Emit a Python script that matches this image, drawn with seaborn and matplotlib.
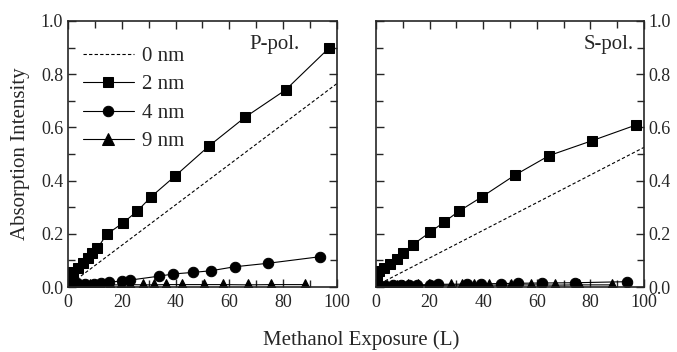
import numpy as np
import pandas as pd
import matplotlib
matplotlib.use("Agg")
import matplotlib.pyplot as plt
import seaborn as sns
from matplotlib.ticker import MultipleLocator, FormatStrFormatter

# exposure (L) and absorption intensity
p0_x = [1.5, 100]
p0_y = [0.016, 0.765]
p2_x = [0, 0.2, 0.5, 1.0, 2.0, 3.8, 5.5, 7.3, 9.0, 10.9, 14.4, 20.6, 25.8, 31.0, 39.8, 52.4, 65.8, 80.9, 97.1]
p2_y = [0.0, 0.015, 0.03, 0.045, 0.057, 0.072, 0.089, 0.108, 0.127, 0.145, 0.198, 0.242, 0.286, 0.340, 0.417, 0.530, 0.638, 0.741, 0.899]
p4_x = [0, 0.5, 1.5, 3.3, 6.4, 9.5, 12.2, 15.4, 20.0, 23.1, 34.0, 39.2, 46.6, 53.1, 61.9, 74.2, 93.8]
p4_y = [0.0, 0.01, 0.02, 0.015, 0.012, 0.012, 0.014, 0.018, 0.023, 0.026, 0.041, 0.049, 0.055, 0.061, 0.076, 0.089, 0.114]
p9_x = [0, 0.5, 2, 4, 6, 8, 10, 12, 15.5, 19.7, 23.1, 28.0, 32.0, 36.5, 42.3, 50.4, 57.8, 66.9, 75.6, 88.2]
p9_y = [0.0, 0.004, 0.005, 0.006, 0.006, 0.007, 0.007, 0.007, 0.008, 0.008, 0.009, 0.008, 0.008, 0.009, 0.009, 0.009, 0.009, 0.008, 0.009, 0.009]

s0_x = [1.5, 100]
s0_y = [0.013, 0.525]
s2_x = [0, 0.2, 0.5, 1.3, 3.0, 5.2, 7.7, 10.2, 13.7, 20.2, 25.4, 30.8, 39.7, 51.9, 64.6, 80.6, 97.0]
s2_y = [0.0, 0.025, 0.044, 0.06, 0.073, 0.088, 0.106, 0.128, 0.159, 0.206, 0.244, 0.284, 0.34, 0.421, 0.494, 0.55, 0.609]
s4_x = [0, 0.5, 1.5, 3.3, 6.4, 9.5, 12.2, 15.4, 20.0, 23.1, 34.0, 39.2, 46.6, 53.1, 61.9, 74.2, 93.8]
s4_y = [0.0, 0.003, 0.004, 0.005, 0.006, 0.006, 0.007, 0.008, 0.009, 0.01, 0.011, 0.012, 0.013, 0.014, 0.015, 0.016, 0.02]
s9_x = [0, 0.5, 2, 4, 6, 8, 10, 12, 15.5, 19.7, 23.1, 28.0, 32.0, 36.5, 42.3, 50.4, 57.8, 66.9, 75.6, 88.2]
s9_y = [0.0, 0.003, 0.004, 0.004, 0.005, 0.005, 0.005, 0.006, 0.006, 0.006, 0.006, 0.007, 0.007, 0.007, 0.007, 0.007, 0.008, 0.007, 0.008, 0.008]

sns.set_style("ticks")
plt.rcParams['font.family'] = ['Liberation Serif', 'DejaVu Serif']

fig = plt.figure(figsize=(6.77, 3.52), dpi=100)
ax1 = fig.add_axes([68/677, 1-287/352, 269/677, 266/352])
ax2 = fig.add_axes([376/677, 1-287/352, 268/677, 266/352])

def draw_panel(ax, d0, d2, d4, d9):
    kw = dict(color='black', lw=0.8, estimator=None, sort=False, ax=ax)
    sns.lineplot(x=d0[0], y=d0[1], linestyle=(0, (3, 2)), label='0 nm', **kw)
    sns.lineplot(x=d2[0], y=d2[1], marker='s', markersize=7.5, mec='black', label='2 nm', **kw)
    sns.lineplot(x=d4[0], y=d4[1], marker='o', markersize=7.5, mec='black', label='4 nm', **kw)
    sns.lineplot(x=d9[0], y=d9[1], marker='^', markersize=9, mec='black', label='9 nm', **kw)
    ax.set_xlim(0, 100)
    ax.set_ylim(0, 1.0)
    ax.xaxis.set_major_locator(MultipleLocator(20))
    ax.xaxis.set_minor_locator(MultipleLocator(10))
    ax.yaxis.set_major_locator(MultipleLocator(0.2))
    ax.yaxis.set_minor_locator(MultipleLocator(0.1))
    ax.yaxis.set_major_formatter(FormatStrFormatter('%.1f'))
    ax.tick_params(which='both', direction='in', top=True, right=True, labelsize=13, width=1.0)
    ax.tick_params(which='major', length=6)
    ax.tick_params(which='minor', length=5)
    ax.tick_params(axis='x', which='major', pad=5)
    for sp in ax.spines.values():
        sp.set_linewidth(1.2)
    ax.set_xlabel('')
    ax.set_ylabel('')

draw_panel(ax1, (p0_x, p0_y), (p2_x, p2_y), (p4_x, p4_y), (p9_x, p9_y))
draw_panel(ax2, (s0_x, s0_y), (s2_x, s2_y), (s4_x, s4_y), (s9_x, s9_y))

ax1.legend(loc='upper left', bbox_to_anchor=(0.055, 0.905), frameon=False, fontsize=15,
           handlelength=2.45, handletextpad=0.37, labelspacing=0.43,
           borderaxespad=0, borderpad=0)
ax2.get_legend().remove()
ax2.tick_params(which='both', labelleft=False, labelright=True)

ax1.text(0.862, 0.91, 'P-pol.', transform=ax1.transAxes, ha='right', va='center', fontsize=15)
ax2.text(0.96, 0.91, 'S-pol.', transform=ax2.transAxes, ha='right', va='center', fontsize=15)

ax1.set_ylabel('Absorption Intensity', fontsize=15, labelpad=8)
fig.text(361/677, 1-340/352, 'Methanol Exposure (L)', ha='center', va='center', fontsize=15)

fig.savefig('out.png', dpi=100)
